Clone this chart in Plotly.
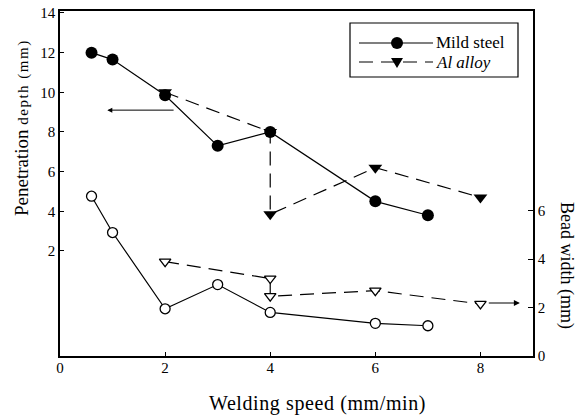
import plotly.graph_objects as go

# ---- data ----
x_ms = [0.6, 1, 2, 3, 4, 6, 7]
pen_ms = [12.0, 11.65, 9.85, 7.3, 8.0, 4.5, 3.8]
x_al = [2, 4, 4, 6, 8]
pen_al = [10.0, 8.0, 3.85, 6.2, 4.7]
x_ms_bw = [0.6, 1, 2, 3, 4, 6, 7]
bw_ms = [6.6, 5.1, 1.95, 2.95, 1.8, 1.35, 1.25]
x_al_bw = [2, 4, 4, 6, 8]
bw_al = [3.9, 3.2, 2.47, 2.7, 2.15]

x_ticks = [0, 2, 4, 6, 8]
left_ticks = [2, 4, 6, 8, 10, 12, 14]
right_ticks = [0, 2, 4, 6]

FONT = "Liberation Serif"
OFF = 8  # page body margin
W, H = 586 - OFF, 418 - OFF
L, T = 60 - OFF, 11 - OFF
PW, PH = 473, 345
R = W - L - PW
B = H - T - PH


def px(xp):
    return (xp - 60) / PW


def py(yp):
    return (356 - yp) / PH


fig = go.Figure()

fig.add_trace(go.Scatter(x=x_ms, y=pen_ms, mode="lines+markers", name="Mild steel",
                         line=dict(color="black", width=1.2),
                         marker=dict(symbol="circle", size=12, color="black"),
                         showlegend=False))
fig.add_trace(go.Scatter(x=x_al, y=pen_al, mode="lines+markers", name="Al alloy",
                         line=dict(color="black", width=1.2, dash="14px,8px"),
                         marker=dict(symbol="triangle-down", size=12, color="black"),
                         showlegend=False))
fig.add_trace(go.Scatter(x=x_ms_bw, y=bw_ms, mode="lines+markers", yaxis="y2",
                         line=dict(color="black", width=1.2),
                         marker=dict(symbol="circle", size=10, color="white",
                                     line=dict(color="black", width=1.3)),
                         showlegend=False))
fig.add_trace(go.Scatter(x=x_al_bw, y=bw_al, mode="lines+markers", yaxis="y2",
                         line=dict(color="black", width=1.2, dash="14px,8px"),
                         marker=dict(symbol="triangle-down", size=10, color="white",
                                     line=dict(color="black", width=1.3)),
                         showlegend=False))

axis_font = dict(family=FONT, size=15, color="black")

fig.update_layout(
    width=W, height=H,
    margin=dict(l=L, r=R, t=T, b=B, autoexpand=False),
    paper_bgcolor="white", plot_bgcolor="white",
    font=dict(family=FONT, color="black"),
    xaxis=dict(range=[0, 9], tickvals=x_ticks, ticks="inside", ticklen=4,
               tickcolor="black", showline=True, linecolor="black", linewidth=1.5,
               mirror=True, showgrid=False, zeroline=False, tickfont=axis_font,
               ticklabeloverflow="allow", ticklabelstandoff=-3),
    yaxis=dict(range=[-3.3, 14.1], tickvals=left_ticks, ticks="inside", ticklen=4,
               tickcolor="black", showline=True, linecolor="black", linewidth=1.5,
               showgrid=False, zeroline=False, tickfont=axis_font,
               ticklabeloverflow="allow"),
    yaxis2=dict(range=[0, 14.25], tickvals=right_ticks, ticks="inside", ticklen=5,
                tickcolor="black", showline=True, linecolor="black", linewidth=1.5,
                overlaying="y", side="right", showgrid=False, zeroline=False,
                tickfont=axis_font, ticklabeloverflow="allow"),
)

# axis titles
fig.add_annotation(xref="paper", yref="paper", x=px(21), y=py(128), showarrow=False,
                   xanchor="center", yanchor="middle", textangle=-90,
                   text="Penetration <span style='font-size:15px;letter-spacing:1.5px'>depth (mm)</span>",
                   font=dict(family=FONT, size=19, color="black"))
fig.add_annotation(xref="paper", yref="paper", x=px(567), y=py(265), showarrow=False,
                   xanchor="center", yanchor="middle", textangle=90,
                   text="Bead width (mm)",
                   font=dict(family=FONT, size=18, color="black"))
fig.add_annotation(xref="paper", yref="paper", x=px(317), y=py(403), showarrow=False,
                   xanchor="center", yanchor="middle",
                   text="<span style='letter-spacing:0.6px'>Welding speed (mm/min)</span>",
                   font=dict(family=FONT, size=20, color="black"))

# direction arrows
fig.add_annotation(x=0.9, y=9.1, xref="x", yref="y", ax=2.19, ay=9.1, axref="x", ayref="y",
                   showarrow=True, arrowhead=2, arrowsize=1, arrowwidth=1, arrowcolor="black",
                   text="")
fig.add_annotation(x=8.75, y=2.19, xref="x", yref="y2", ax=8.13, ay=2.19, axref="x", ayref="y2",
                   showarrow=True, arrowhead=2, arrowsize=1, arrowwidth=1.2, arrowcolor="black",
                   text="")

# legend (drawn manually)
shapes = []
shapes.append(dict(type="rect", xref="paper", yref="paper", x0=px(350), x1=px(518),
                   y0=py(77), y1=py(23), line=dict(color="black", width=1.2),
                   fillcolor="white", layer="above"))
shapes.append(dict(type="line", xref="paper", yref="paper", x0=px(359), x1=px(433),
                   y0=py(43), y1=py(43), line=dict(color="black", width=1.2), layer="above"))
shapes.append(dict(type="line", xref="paper", yref="paper", x0=px(359), x1=px(433),
                   y0=py(62), y1=py(62), line=dict(color="black", width=1.2, dash="14px,8px"),
                   layer="above"))
shapes.append(dict(type="circle", xref="paper", yref="paper", xsizemode="pixel",
                   ysizemode="pixel", xanchor=px(397), yanchor=py(43),
                   x0=-6, x1=6, y0=-6, y1=6, fillcolor="black",
                   line=dict(color="black", width=0), layer="above"))
shapes.append(dict(type="path", xref="paper", yref="paper", xsizemode="pixel",
                   ysizemode="pixel", xanchor=px(397), yanchor=py(62),
                   path="M-6,4 L6,4 L0,-6 Z", fillcolor="black",
                   line=dict(color="black", width=0), layer="above"))
fig.update_layout(shapes=shapes)
fig.add_annotation(xref="paper", yref="paper", x=px(434), y=py(43), xanchor="left",
                   yanchor="middle", showarrow=False, text="Mild steel",
                   font=dict(family=FONT, size=17, color="black"))
fig.add_annotation(xref="paper", yref="paper", x=px(434), y=py(62), xanchor="left",
                   yanchor="middle", showarrow=False, text="<i>Al alloy</i>",
                   font=dict(family=FONT, size=17, color="black"))

fig.write_html("out.html")
